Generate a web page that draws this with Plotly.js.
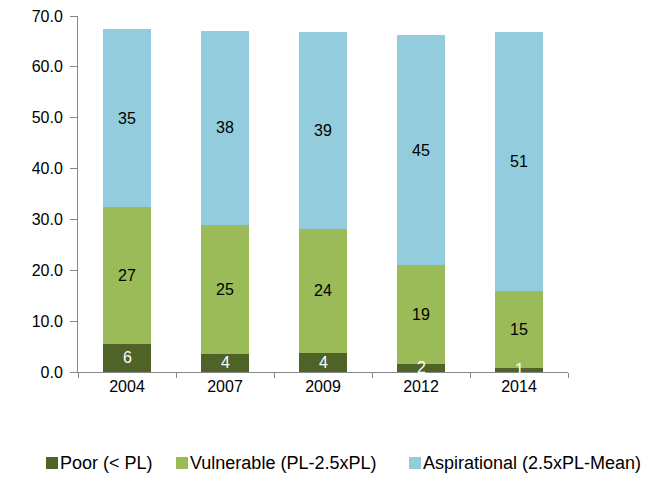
<!DOCTYPE html>
<html>
<head>
<meta charset="utf-8">
<script src="https://cdn.plot.ly/plotly-3.0.1.min.js"></script>
<style>html,body{margin:0;padding:0;background:#fff;}#chart{width:652px;height:477px;}</style>
</head>
<body>
<div id="chart"></div>
<script>
var years = ['2004', '2007', '2009', '2012', '2014'];
var poor = [5.6, 3.6, 3.8, 1.6, 0.85];
var vulnerable = [26.8, 25.4, 24.3, 19.4, 15.0];
var aspirational = [35.0, 38.0, 38.8, 45.3, 51.1];
var seriesNames = ['Poor (< PL)', 'Vulnerable (PL-2.5xPL)', 'Aspirational (2.5xPL-Mean)'];

var colors = ['#4F6228', '#9BBB59', '#93CDDD'];
var labelColors = ['#FFFFFF', '#000000', '#000000'];
var series = [poor, vulnerable, aspirational];
var fontFam = 'Liberation Sans, Arial, sans-serif';

var M = {l: 78, r: 84, t: 16, b: 105};
var W = 652, H = 477;
var plotW = W - M.l - M.r, plotH = H - M.t - M.b;
function px2x(p) { return (p - M.l) / plotW; }
function py2y(p) { return (H - M.b - p) / plotH; }

var traces = series.map(function (vals, i) {
  return {
    type: 'bar', x: years, y: vals, name: seriesNames[i],
    marker: {color: colors[i], line: {width: 0}},
    hoverinfo: 'none', showlegend: false
  };
});

var annotations = [];
years.forEach(function (yr, j) {
  var base = 0;
  series.forEach(function (vals, i) {
    annotations.push({
      x: j, y: base + vals[j] / 2, xref: 'x', yref: 'y',
      text: String(Math.round(vals[j])), showarrow: false,
      font: {family: fontFam, size: 16, color: labelColors[i]}
    });
    base += vals[j];
  });
});

// legend (layout positions in pixels)
var legendSquareLeft = [46, 176, 409];
var legendY = 463, sq = 12;
var shapes = [];
seriesNames.forEach(function (name, i) {
  var x0 = legendSquareLeft[i];
  shapes.push({
    type: 'rect', xref: 'paper', yref: 'paper',
    x0: px2x(x0), x1: px2x(x0 + sq),
    y0: py2y(legendY + sq / 2), y1: py2y(legendY - sq / 2),
    fillcolor: colors[i], line: {width: 0}
  });
  annotations.push({
    xref: 'paper', yref: 'paper', x: px2x(x0 + sq + 2), y: py2y(legendY),
    xanchor: 'left', yanchor: 'middle', showarrow: false,
    borderpad: 0, borderwidth: 0,
    text: name, font: {family: fontFam, size: 18, color: '#000'}
  });
});

var layout = {
  width: W, height: H,
  margin: M,
  paper_bgcolor: '#fff', plot_bgcolor: '#fff',
  barmode: 'stack', bargap: 0.51,
  font: {family: fontFam, size: 16, color: '#000'},
  showlegend: false,
  xaxis: {
    type: 'category', range: [-0.5, 4.5], autorange: false,
    showline: true, linecolor: '#868686', linewidth: 1,
    ticks: 'outside', tickson: 'boundaries', ticklen: 5, tickcolor: '#868686',
    showgrid: false, zeroline: false, tickangle: 0,
    tickfont: {family: fontFam, size: 16, color: '#000'}
  },
  yaxis: {
    range: [0, 70], autorange: false, dtick: 10, tickformat: '.1f',
    showline: true, linecolor: '#868686', linewidth: 1,
    ticks: 'outside', ticklen: 7, tickcolor: '#868686', ticklabelstandoff: 4,
    showgrid: false, zeroline: false,
    tickfont: {family: fontFam, size: 16, color: '#000'}
  },
  shapes: shapes,
  annotations: annotations
};

Plotly.newPlot('chart', traces, layout, {displayModeBar: false, staticPlot: true});
</script>
</body>
</html>
